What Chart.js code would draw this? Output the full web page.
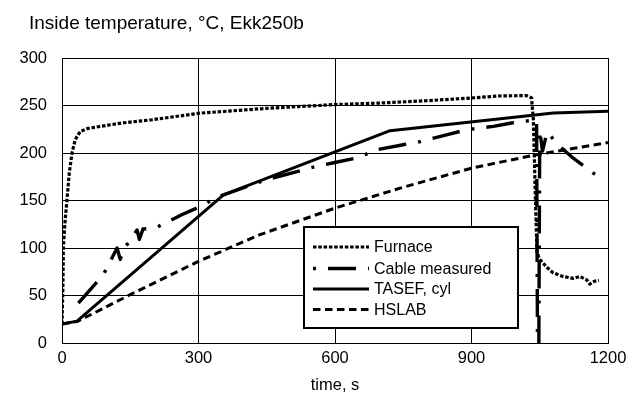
<!DOCTYPE html>
<html>
<head>
<meta charset="utf-8">
<script src="https://cdn.jsdelivr.net/npm/chart.js@4/dist/chart.umd.min.js"></script>
<style>
  html, body { margin: 0; padding: 0; background: #fff; }
  #wrap { width: 633px; height: 403px; position: relative; }
</style>
</head>
<body>
<div id="wrap"><canvas id="c" width="633" height="403"></canvas></div>
<script>
// ---- data ----
const chartTitle = "Inside temperature, °C, Ekk250b";
const xAxisTitle = "time, s";
const seriesNames = ["Furnace", "Cable measured", "TASEF, cyl", "HSLAB"];
const xTicks = [0, 300, 600, 900, 1200];
const yTicks = [0, 50, 100, 150, 200, 250, 300];

const furnaceTime = [0, 2, 3, 7, 11, 16, 22, 29, 40, 58, 132, 198, 304, 450, 600, 700, 800, 903, 960, 1020, 1032, 1036, 1040, 1044, 1050, 1065, 1079, 1101, 1124, 1138, 1153, 1160, 1170, 1180];
const furnaceTemp = [20, 60, 100, 130, 151, 179, 200, 214, 222.7, 226, 231.6, 235, 242, 247, 251, 252.6, 255, 258, 260, 260.5, 258, 235, 160, 95, 88, 80, 74, 70, 68, 70, 66.5, 62, 65, 66];

const cableTime = [36, 91, 121, 128, 135, 165, 170, 178, 205, 263, 296, 340, 355, 450, 560, 600, 650, 692, 750, 787, 845, 889, 948, 988, 1043, 1045, 1048, 1050, 1056, 1066, 1094, 1120, 1167, 1185];
const cableTemp = [42, 72, 100, 88, 98, 119, 109, 120, 121, 135, 142, 153, 156, 172, 186, 190, 195, 203.5, 208.7, 212, 219, 224.5, 228, 231.6, 235, 0, 0, 224, 202, 222, 207, 196, 179, 173];

const tasefTime = [0, 33, 355, 721, 1080, 1200];
const tasefTemp = [20, 23, 156, 223.5, 242, 244];

const hslabTime = [0, 33, 157, 300, 435, 600, 750, 900, 1040, 1200];
const hslabTemp = [20, 22.5, 52.6, 86, 114, 142, 164, 184, 198, 211];

// ---- build ----
const FONT = "'Liberation Sans', Arial, Helvetica, sans-serif";
const pts = (xs, ys) => xs.map((x, i) => ({ x: x, y: ys[i] }));

const styles = [
  { borderWidth: 3.2, borderDash: [3.5, 1.8], offset: 0 },
  { borderWidth: 3.4, borderDash: [3, 12, 28, 12], offset: 15 },
  { borderWidth: 3, borderDash: [], offset: 0 },
  { borderWidth: 3, borderDash: [7.5, 4.5], offset: 0 }
];
const seriesData = [
  pts(furnaceTime, furnaceTemp),
  pts(cableTime, cableTemp),
  pts(tasefTime, tasefTemp),
  pts(hslabTime, hslabTemp)
];

const datasets = seriesNames.map((name, i) => ({
  label: name,
  data: seriesData[i],
  borderColor: '#000',
  backgroundColor: '#000',
  borderWidth: styles[i].borderWidth,
  borderDash: styles[i].borderDash,
  borderDashOffset: styles[i].offset,
  pointRadius: 0,
  tension: 0,
  fill: false,
  borderCapStyle: 'butt',
  borderJoinStyle: 'round'
}));

const overlay = {
  id: 'overlay',
  afterDraw(chart) {
    const ctx = chart.ctx;
    ctx.save();
    // title
    ctx.fillStyle = '#000';
    ctx.font = "19px " + FONT;
    ctx.textAlign = 'left';
    ctx.textBaseline = 'alphabetic';
    ctx.fillText(chartTitle, 29, 29);
    // legend box
    const bx = 304, by = 227, bw = 214, bh = 101;
    ctx.fillStyle = '#fff';
    ctx.fillRect(bx, by, bw, bh);
    ctx.strokeStyle = '#000';
    ctx.lineWidth = 2;
    ctx.strokeRect(bx, by, bw, bh);
    const rows = [247, 268.5, 289, 309.5];
    chart.data.datasets.forEach((ds, i) => {
      const y = rows[i];
      ctx.beginPath();
      ctx.setLineDash(ds.borderDash);
      ctx.lineDashOffset = 0;
      ctx.lineWidth = ds.borderWidth;
      ctx.lineCap = 'butt';
      ctx.moveTo(313, y);
      ctx.lineTo(369, y);
      ctx.stroke();
      ctx.setLineDash([]);
      ctx.fillStyle = '#000';
      ctx.font = "16px " + FONT;
      ctx.textBaseline = 'middle';
      ctx.fillText(ds.label, 374, y + 1);
    });
    ctx.restore();
  }
};

new Chart(document.getElementById('c'), {
  type: 'line',
  data: { datasets },
  plugins: [overlay],
  options: {
    responsive: false,
    animation: false,
    devicePixelRatio: 1,
    layout: { padding: { left: 0, right: 25, top: 58, bottom: 0 } },
    plugins: { legend: { display: false }, title: { display: false }, tooltip: { enabled: false } },
    scales: {
      x: {
        type: 'linear',
        min: 0, max: 1200,
        afterBuildTicks: s => { s.ticks = xTicks.map(v => ({ value: v })); },
        afterFit: s => { s.height = 60; },
        grid: { color: '#000', lineWidth: 1, drawTicks: false },
        border: { color: '#000', width: 1 },
        ticks: { color: '#000', font: { family: FONT, size: 16.5 }, padding: 6, maxRotation: 0, callback: v => String(v) },
        title: { display: true, text: xAxisTitle, color: '#000', font: { family: FONT, size: 16.5 }, padding: { top: 0, bottom: 8 } }
      },
      y: {
        min: 0, max: 300,
        afterBuildTicks: s => { s.ticks = yTicks.map(v => ({ value: v })); },
        afterFit: s => { s.width = 62; },
        grid: { color: '#000', lineWidth: 1, drawTicks: false },
        border: { color: '#000', width: 1 },
        ticks: { color: '#000', font: { family: FONT, size: 16.5 }, padding: 15, callback: v => String(v) }
      }
    }
  }
});
</script>
</body>
</html>
